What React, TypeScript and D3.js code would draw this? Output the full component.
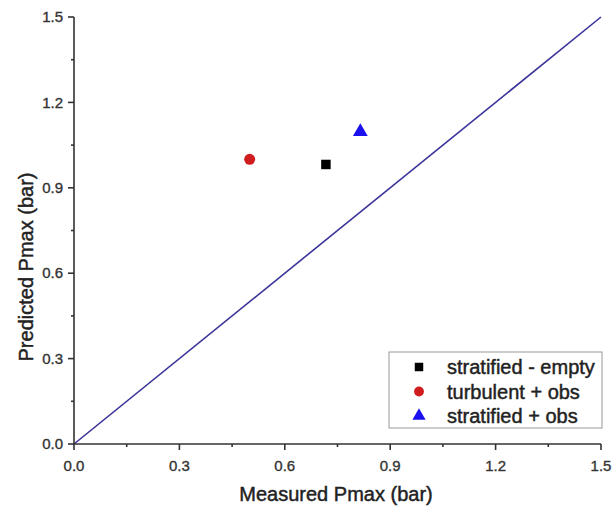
import React from "react";
import * as d3 from "d3";

const seriesNames = ["stratified - empty", "turbulent + obs", "stratified + obs"];
const measured = [0.717, 0.5, 0.815];
const predicted = [0.982, 1.0, 1.097];
const symbolTypes = [d3.symbolSquare, d3.symbolCircle, d3.symbolTriangle];
const colors = ["#000000", "#d01c1c", "#1a10f0"];
const majorTicks = [0, 0.3, 0.6, 0.9, 1.2, 1.5];
const minorTicks = [0.15, 0.45, 0.75, 1.05, 1.35];
const idealLine = [0, 1.5];

export default function App() {
  const W = 613, H = 507;
  const left = 74, right = 601, top = 17, bottom = 444;
  const x = d3.scaleLinear().domain([0, 1.5]).range([left, right]);
  const y = d3.scaleLinear().domain([0, 1.5]).range([bottom, top]);
  const axisColor = "#333";
  const font = "Liberation Sans, Arial, sans-serif";
  const sizes = [90, 95, 95];
  const line = d3.line<number>().x(d => x(d)).y(d => y(d));
  const legX = 389, legY = 352, legW = 213, legH = 76;
  const txt = { fontFamily: font, fill: "#222", stroke: "#222", strokeWidth: 0.45 };
  const tick = { fontFamily: font, fill: "#333", stroke: "#333", strokeWidth: 0.35 };
  return (
    <svg width={W} height={H} style={{ position: "absolute", left: 0, top: 0, background: "#fff" }}>
      <rect width={W} height={H} fill="#fff" />
      {/* ideal line */}
      <path d={line(idealLine) || ""} stroke="#3a3399" strokeWidth={1.6} fill="none" />
      {/* axes */}
      <line x1={left} x2={left} y1={top} y2={bottom} stroke={axisColor} strokeWidth={1.6} />
      <line x1={left} x2={right} y1={bottom} y2={bottom} stroke={axisColor} strokeWidth={1.6} />
      {majorTicks.map(t => (
        <g key={"y" + t}>
          <line x1={left - 6} x2={left} y1={y(t)} y2={y(t)} stroke={axisColor} strokeWidth={1.6} />
          <text x={left - 11} y={y(t)} dy="0.35em" textAnchor="end" fontSize={15} {...tick}>{t.toFixed(1)}</text>
        </g>
      ))}
      {minorTicks.map(t => (
        <line key={"ym" + t} x1={left - 3} x2={left} y1={y(t)} y2={y(t)} stroke={axisColor} strokeWidth={1.6} />
      ))}
      {majorTicks.map(t => (
        <g key={"x" + t}>
          <line x1={x(t)} x2={x(t)} y1={bottom} y2={bottom + 6} stroke={axisColor} strokeWidth={1.6} />
          <text x={x(t)} y={bottom + 27} textAnchor="middle" fontSize={15} {...tick}>{t.toFixed(1)}</text>
        </g>
      ))}
      {minorTicks.map(t => (
        <line key={"xm" + t} x1={x(t)} x2={x(t)} y1={bottom} y2={bottom + 3} stroke={axisColor} strokeWidth={1.6} />
      ))}
      {/* axis titles */}
      <text x={336} y={501} textAnchor="middle" fontSize={20} {...txt}>Measured Pmax (bar)</text>
      <text transform={`translate(33,267) rotate(-90)`} textAnchor="middle" fontSize={20} {...txt}>Predicted Pmax (bar)</text>
      {/* points */}
      {seriesNames.map((n, i) => (
        <path key={n} transform={`translate(${x(measured[i])},${y(predicted[i])})`}
          d={d3.symbol().type(symbolTypes[i]).size(sizes[i])() || ""} fill={colors[i]} />
      ))}
      {/* legend */}
      <rect x={legX} y={legY} width={legW} height={legH} fill="#fff" stroke="#999" strokeWidth={1} />
      {seriesNames.map((n, i) => (
        <g key={"l" + n} transform={`translate(0,${legY + 15 + i * 24.5})`}>
          <path transform={`translate(419,0)`} d={d3.symbol().type(symbolTypes[i]).size(sizes[i] * 0.8)() || ""} fill={colors[i]} />
          <text x={447} y={0} dy="0.35em" fontSize={20} {...txt}>{n}</text>
        </g>
      ))}
    </svg>
  );
}
